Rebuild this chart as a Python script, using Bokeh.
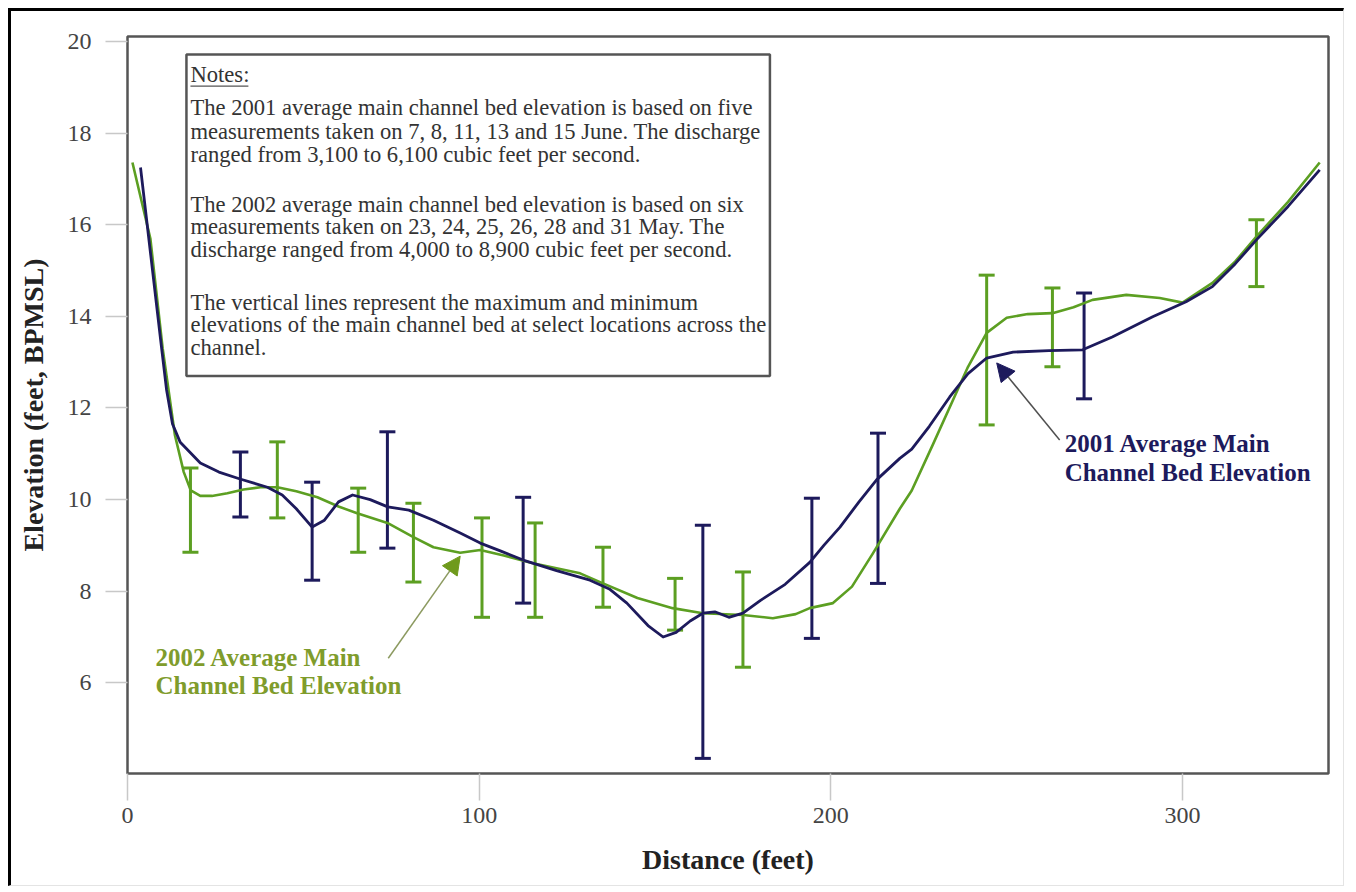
from bokeh.plotting import figure
from bokeh.models import (Range1d, ColumnDataSource, Whisker, TeeHead, Label, BoxAnnotation,
                          Arrow, NormalHead, FixedTicker)
from bokeh.embed import file_html
from bokeh.resources import INLINE

# ---------------- data ----------------
x2001 = [3.7, 9.4, 11.1, 12.8, 15.0, 20.7, 26.0, 32.0, 39.8, 44.0, 48.0, 52.5, 56.0, 60.0, 64.0,
         69.0, 74.0, 80.0, 87.0, 94.6, 100.3, 106.0, 112.5, 122.0, 131.5, 137.0, 142.0, 148.0,
         152.3, 156.0, 160.0, 163.6, 167.0, 171.0, 175.0, 180.0, 187.0, 194.0, 198.0, 202.6,
         208.0, 213.0, 219.6, 223.0, 228.0, 233.8, 239.0, 244.3, 251.8, 262.0, 271.6, 280.0,
         291.5, 301.0, 308.5, 315.0, 321.0, 330.0, 339.0]
y2001 = [17.25, 13.5, 12.4, 11.65, 11.25, 10.8, 10.6, 10.45, 10.27, 10.1, 9.8, 9.4, 9.55, 9.95, 10.1,
         10.0, 9.84, 9.77, 9.55, 9.27, 9.05, 8.88, 8.68, 8.45, 8.24, 8.05, 7.74, 7.25,
         7.0, 7.1, 7.35, 7.52, 7.55, 7.43, 7.52, 7.8, 8.15, 8.63, 9.0, 9.4,
         9.95, 10.43, 10.9, 11.1, 11.6, 12.24, 12.75, 13.09, 13.22, 13.25, 13.27, 13.55,
         13.99, 14.32, 14.65, 15.15, 15.67, 16.4, 17.2]

x2002 = [1.4, 6.5, 10.0, 13.5, 16.0, 18.0, 20.7, 24.0, 28.4, 33.0, 37.8, 42.6, 48.0, 54.0, 60.0,
         65.3, 73.9, 81.3, 87.0, 94.6, 100.3, 107.0, 115.3, 122.0, 128.7, 135.2, 145.0, 155.0,
         163.6, 175.0, 183.5, 190.0, 194.0, 200.6, 206.0, 212.0, 219.6, 223.0, 229.0, 234.7,
         239.0, 244.3, 250.0, 256.0, 263.0, 269.0, 274.4, 284.0, 293.5, 300.0, 308.5, 315.0,
         321.0, 330.0, 339.0]
y2002 = [17.36, 15.7, 13.3, 11.4, 10.6, 10.2, 10.08, 10.08, 10.14, 10.22, 10.27, 10.27, 10.18, 10.05, 9.85,
         9.7, 9.49, 9.18, 8.96, 8.84, 8.9, 8.78, 8.61, 8.5, 8.39, 8.17, 7.85, 7.63,
         7.52, 7.48, 7.41, 7.5, 7.63, 7.74, 8.1, 8.83, 9.8, 10.2, 11.2, 12.17,
         12.9, 13.64, 13.97, 14.05, 14.07, 14.2, 14.36, 14.47, 14.4, 14.3, 14.73, 15.2,
         15.74, 16.5, 17.36]

bar2001_x = [32.1, 52.5, 73.9, 112.5, 163.6, 194.6, 213.4, 272.0]
bar2001_lo = [9.62, 8.24, 8.94, 7.74, 4.35, 6.97, 8.17, 12.2]
bar2001_hi = [11.04, 10.38, 11.48, 10.05, 9.44, 10.03, 11.45, 14.51]

bar2002_x = [17.9, 42.6, 65.6, 81.3, 100.8, 115.9, 135.2, 155.7, 175.0, 244.3, 263.0, 321.0]
bar2002_lo = [8.85, 9.6, 8.85, 8.2, 7.43, 7.43, 7.65, 7.15, 6.34, 11.63, 12.9, 14.65]
bar2002_hi = [10.69, 11.26, 10.25, 9.92, 9.6, 9.49, 8.96, 8.28, 8.42, 14.9, 14.62, 16.11]

x_ticks = [0, 100, 200, 300]
y_ticks = [6, 8, 10, 12, 14, 16, 18, 20]

notes_lines = [
    "The 2001 average main channel bed elevation is based on five",
    "measurements taken on 7, 8, 11, 13 and 15 June.  The discharge",
    "ranged from 3,100 to 6,100 cubic feet per second.",
    "The 2002 average main channel bed elevation is based on six",
    "measurements taken on 23, 24, 25, 26, 28 and 31 May.  The",
    "discharge ranged from 4,000 to 8,900 cubic feet per second.",
    "The vertical lines represent the maximum and minimum",
    "elevations of the main channel bed at select locations across the",
    "channel.",
]

# ---------------- styling ----------------
BLUE = "#1d1a5c"
GREEN = "#5c9f22"
GREEN_TXT = "#7f9c2c"
FONT = "Liberation Serif"

# reference pixel -> data helpers (layout only)
X0, XS = 127.0, 3.52
Y0, YS = 42.0, 45.75
def dx(px):
    return (px - X0) / XS
def dy(py):
    return 20 - (py - Y0) / YS

p = figure(width=1336, height=878, output_backend="svg", toolbar_location=None,
           x_range=Range1d(0, 341.5), y_range=Range1d(4.02, 20.11),
           min_border_left=116, min_border_right=19, min_border_top=25, min_border_bottom=116)
p.styles = {"margin-left": "8px", "margin-top": "8px",
            "border-left": "3px solid #000", "border-top": "3px solid #000",
            "border-right": "1px solid #e4e4e4", "border-bottom": "1px solid #e4e4e4"}
p.grid.visible = False
p.background_fill_color = "white"
p.border_fill_color = "white"
p.outline_line_color = "#555555"
p.outline_line_width = 2.5

for ax in (p.xaxis[0], p.yaxis[0]):
    ax.axis_line_color = None
    ax.major_tick_line_color = "#c8c8c8"
    ax.major_tick_line_width = 1.5
    ax.major_tick_in = 0
    ax.minor_tick_line_color = None
    ax.major_label_text_font = FONT
    ax.major_label_text_font_size = "24px"
    ax.major_label_text_color = "#444444"
    ax.axis_label_text_font = FONT
    ax.axis_label_text_font_style = "bold"
    ax.axis_label_text_font_size = "28px"
    ax.axis_label_text_color = "#222222"

p.xaxis.ticker = FixedTicker(ticks=x_ticks)
p.yaxis.ticker = FixedTicker(ticks=y_ticks)
p.xaxis.major_tick_out = 27
p.yaxis.major_tick_out = 22
p.xaxis.major_label_standoff = 7
p.yaxis.major_label_standoff = 14
p.xaxis.axis_label = "Distance (feet)"
p.yaxis.axis_label = "Elevation (feet, BPMSL)"
p.xaxis.axis_label_standoff = 18
p.yaxis.axis_label_standoff = 16

# notes box
p.add_layout(BoxAnnotation(left=dx(186), right=dx(770), top=dy(55), bottom=dy(376),
                           fill_color="white", fill_alpha=1, line_color="#555555",
                           line_alpha=1, line_width=2.5, level="underlay"))
NOTE_FS = "22.6px"
p.add_layout(Label(x=dx(190), y=dy(75), text="Notes:", text_font=FONT, text_font_size=NOTE_FS,
                   text_color="#333333", text_baseline="middle"))
p.add_layout(BoxAnnotation(left=dx(190), right=dx(248), top=dy(86), bottom=dy(87.2),
                           fill_color="#555555", fill_alpha=1, line_color=None))
line_y = [108, 132, 155, 205, 227, 250, 303, 325, 348]
for t, yy in zip(notes_lines, line_y):
    p.add_layout(Label(x=dx(190), y=dy(yy), text=t, text_font=FONT, text_font_size=NOTE_FS,
                       text_color="#333333", text_baseline="middle"))

# error bars
s01 = ColumnDataSource(dict(x=bar2001_x, lo=bar2001_lo, hi=bar2001_hi))
s02 = ColumnDataSource(dict(x=bar2002_x, lo=bar2002_lo, hi=bar2002_hi))
p.add_layout(Whisker(source=s02, base="x", lower="lo", upper="hi", line_color=GREEN, line_width=3,
                     lower_head=TeeHead(size=16, line_color=GREEN, line_width=3),
                     upper_head=TeeHead(size=16, line_color=GREEN, line_width=3)))
p.add_layout(Whisker(source=s01, base="x", lower="lo", upper="hi", line_color=BLUE, line_width=3,
                     lower_head=TeeHead(size=16, line_color=BLUE, line_width=3),
                     upper_head=TeeHead(size=16, line_color=BLUE, line_width=3)))

# lines
p.line(x2002, y2002, line_color=GREEN, line_width=2.6, line_join="round")
p.line(x2001, y2001, line_color=BLUE, line_width=2.8, line_join="round")

# annotations
p.add_layout(Arrow(x_start=dx(388), y_start=dy(658), x_end=dx(460), y_end=dy(556),
                   line_color="#8c9a60", line_width=1.5,
                   end=NormalHead(size=18, fill_color="#6f9a1c", line_color="#6f9a1c")))
p.add_layout(Arrow(x_start=dx(1060), y_start=dy(440), x_end=dx(997), y_end=dy(363),
                   line_color="#505050", line_width=1.5,
                   end=NormalHead(size=18, fill_color=BLUE, line_color=BLUE)))

ANN_FS = "25px"
for txt, yy in (("2002 Average Main", 657), ("Channel Bed Elevation", 685)):
    p.add_layout(Label(x=dx(155), y=dy(yy), text=txt, text_font=FONT, text_font_style="bold",
                       text_font_size=ANN_FS, text_color=GREEN_TXT, text_baseline="middle"))
for txt, yy in (("2001 Average Main", 443), ("Channel Bed Elevation", 472)):
    p.add_layout(Label(x=dx(1065), y=dy(yy), text=txt, text_font=FONT, text_font_style="bold",
                       text_font_size=ANN_FS, text_color=BLUE, text_baseline="middle"))

open("out.html", "w").write(file_html(p, INLINE))
